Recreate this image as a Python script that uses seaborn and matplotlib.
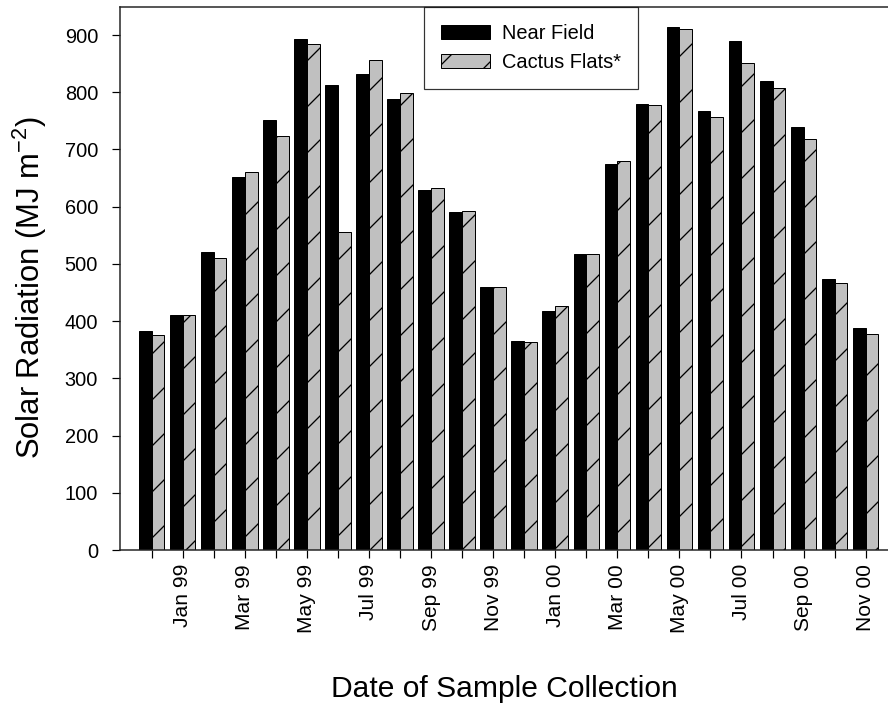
import matplotlib
matplotlib.use("Agg")
import matplotlib.pyplot as plt
from matplotlib.patches import Patch
import numpy as np
import pandas as pd
import seaborn as sns

months = ["Dec 98", "Jan 99", "Feb 99", "Mar 99", "Apr 99", "May 99", "Jun 99", "Jul 99",
          "Aug 99", "Sep 99", "Oct 99", "Nov 99", "Dec 99", "Jan 00", "Feb 00", "Mar 00",
          "Apr 00", "May 00", "Jun 00", "Jul 00", "Aug 00", "Sep 00", "Oct 00", "Nov 00"]
near_field = [383, 410, 520, 652, 752, 893, 812, 832, 789, 629, 590, 459,
              365, 417, 517, 674, 780, 914, 768, 890, 820, 740, 474, 388]
cactus_flats = [376, 411, 510, 660, 724, 885, 555, 856, 798, 632, 593, 460,
                364, 426, 517, 680, 777, 910, 757, 851, 808, 718, 467, 378]
series_names = ["Near Field", "Cactus Flats*"]
tick_labels = [m if i % 2 == 1 else "" for i, m in enumerate(months)]
y_ticks = [0, 100, 200, 300, 400, 500, 600, 700, 800, 900]

df = pd.DataFrame({
    "month": months * 2,
    "value": near_field + cactus_flats,
    "site": [series_names[0]] * len(months) + [series_names[1]] * len(months),
})

DPI = 138
def pt(px):
    return px * 72.0 / DPI

sns.set_style("ticks")
plt.rcParams["font.family"] = ["Liberation Sans", "DejaVu Sans"]
plt.rcParams["mathtext.fontset"] = "custom"
plt.rcParams["mathtext.rm"] = "Liberation Sans"
plt.rcParams["mathtext.it"] = "Liberation Sans"
plt.rcParams["hatch.linewidth"] = pt(1.3)
for k in ["text.color", "axes.labelcolor", "xtick.color", "ytick.color"]:
    plt.rcParams[k] = "black"

fig = plt.figure(figsize=(888 / DPI, 709 / DPI), dpi=DPI)
ax = fig.add_axes([120 / 888, 1 - 550 / 709, 768 / 888, 543 / 709])

gray = "#c0c0c0"
sns.barplot(data=df, x="month", y="value", hue="site", order=months,
            hue_order=series_names, palette=["black", gray], width=0.82,
            saturation=1, edgecolor="black", linewidth=pt(1.0), ax=ax,
            legend=False, errorbar=None)
for bar in ax.containers[1]:
    bar.set_hatch("/")

ax.set_xlim(-1.02, 23.72)
ax.set_ylim(0, 949)
ax.set_yticks(y_ticks)
ax.set_xticks(range(len(months)))
ax.set_xticklabels(tick_labels, rotation=90, fontsize=pt(21))
ax.tick_params(axis="y", labelsize=pt(20), length=pt(8), width=pt(1.2), pad=pt(14))
ax.tick_params(axis="x", length=pt(8), width=pt(1.2), pad=pt(6))

for s in ["left", "bottom", "top"]:
    ax.spines[s].set_linewidth(pt(1.5))
    ax.spines[s].set_color("#222222")
ax.spines["right"].set_visible(False)

ax.set_ylabel("Solar Radiation (MJ m$^{\\mathrm{-2}}$)", fontsize=pt(31))
ax.set_xlabel("Date of Sample Collection", fontsize=pt(30))
ax.xaxis.set_label_coords(0.501, -0.230)
ax.yaxis.set_label_coords(-0.092, 0.484)

handles = [Patch(facecolor="black", edgecolor="black", linewidth=pt(1.0)),
           Patch(facecolor=gray, edgecolor="black", hatch="/", linewidth=pt(1.0))]
leg = ax.legend(handles, series_names, loc="upper left", bbox_to_anchor=(0.396, 1.0),
                borderaxespad=0, fontsize=pt(20), frameon=True, fancybox=False,
                handlelength=2.45, handleheight=0.75, handletextpad=0.6,
                labelspacing=0.5, borderpad=0.85)
leg.get_frame().set_edgecolor("black")
leg.get_frame().set_linewidth(pt(1.2))

fig.savefig("out.png", dpi=DPI)
